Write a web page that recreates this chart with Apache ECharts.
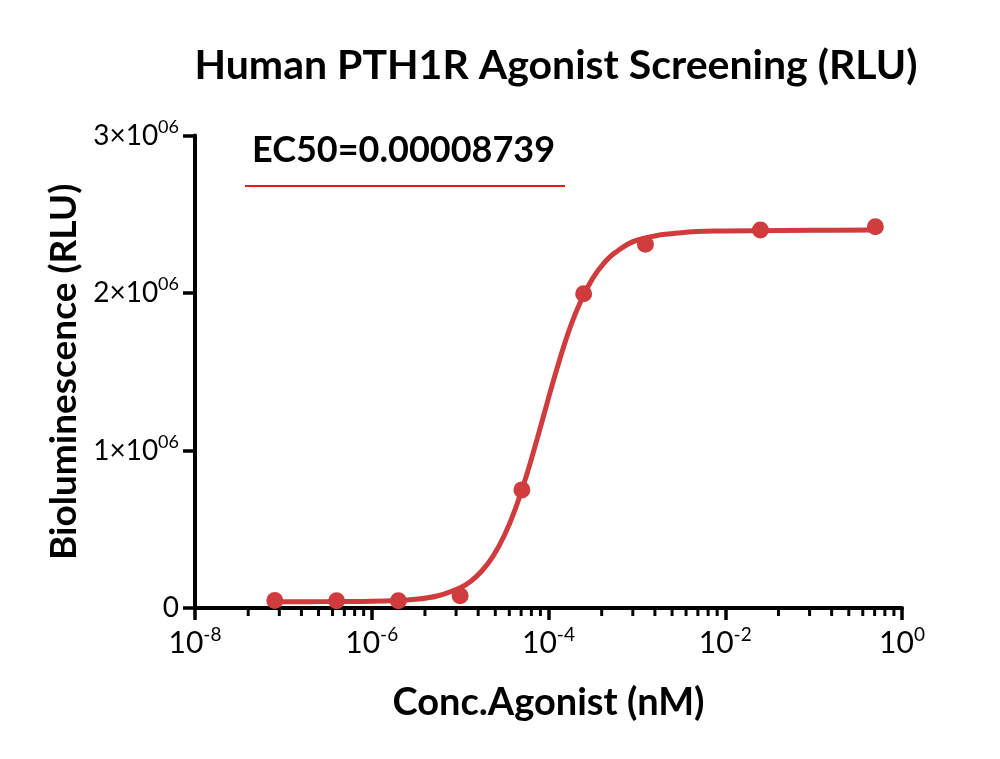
<!DOCTYPE html>
<html>
<head>
<meta charset="utf-8">
<script src="https://cdn.jsdelivr.net/npm/echarts@6/dist/echarts.min.js"></script>
<style>html,body{margin:0;padding:0;background:#fff}#c{width:1000px;height:759px}</style>
</head>
<body>
<div id="c"></div>
<script>
// ---- data ----
const titleText = 'Human PTH1R Agonist Screening (RLU)';
const legendText = 'EC50=0.00008739';
const xName = 'Conc.Agonist (nM)';
const yName = 'Bioluminescence (RLU)';

// measured points: concentration (nM) and RLU
const conc = [8e-8, 4e-7, 2e-6, 1e-5, 5e-5, 2.5e-4, 1.25e-3, 0.025, 0.5];
const rlu  = [48000, 46000, 46000, 78000, 750000, 1995000, 2310000, 2400000, 2420000];

// fitted curve
const curveX = [8e-8, 3.162e-7, 1e-6, 3.162e-6, 5.623e-6, 1e-5, 1.334e-5, 1.778e-5, 2.371e-5, 3.162e-5, 4.217e-5, 5.623e-5, 7.499e-5, 1e-4, 1.334e-4, 1.778e-4, 2.371e-4, 3.162e-4, 4.217e-4, 5.623e-4, 1e-3, 3.162e-3, 1e-2, 0.1, 0.5];
const curveY = [40000, 40500, 43000, 56000, 78000, 129000, 172000, 238000, 331000, 460000, 630000, 840000, 1080000, 1333000, 1575000, 1790000, 1960000, 2093000, 2188000, 2255000, 2335000, 2383000, 2394000, 2398000, 2400000];

// axis ticks
const xMin = 1e-8, xMax = 1;
const xMajor = [1e-8, 1e-6, 1e-4, 1e-2, 1];
const minorMult = [4, 9, 16, 25, 36, 49, 64, 81];
const yTicks = [0, 1000000, 2000000, 3000000];

const minorTicks = [];
for (let i = 0; i < xMajor.length - 1; i++) for (const m of minorMult) minorTicks.push([xMajor[i] * m, 0]);

const RED = '#d03c3e';
const FONT = 'Lato';

const chart = echarts.init(document.getElementById('c'), null, {renderer: 'canvas'});
chart.setOption({
  backgroundColor: '#fff',
  animation: false,
  title: {
    text: titleText, left: 551, top: 40, textAlign: 'center',
    textStyle: {fontFamily: FONT, fontWeight: 'bold', fontSize: 41, color: '#000'}
  },
  grid: {left: 195, right: 98, top: 135.5, bottom: 151, containLabel: false},
  xAxis: {
    type: 'log', logBase: 100, min: xMin, max: xMax,
    name: xName, nameLocation: 'middle', nameGap: 76,
    nameTextStyle: {fontFamily: FONT, fontWeight: 'bold', fontSize: 38, color: '#000'},
    axisLine: {lineStyle: {color: '#000', width: 4}},
    axisTick: {length: 12, lineStyle: {color: '#000', width: 3.5}},
    splitLine: {show: false},
    axisLabel: {
      margin: 17,
      formatter: v => '{b|10}{s|' + Math.round(Math.log10(v)) + '}',
      rich: {
        b: {fontFamily: FONT, fontSize: 30, color: '#000'},
        s: {fontFamily: FONT, fontSize: 19, color: '#000', padding: [0, 0, 18, 0]}
      }
    }
  },
  yAxis: {
    type: 'value', min: 0, max: 3000000, interval: 1000000,
    name: yName, nameLocation: 'middle', nameGap: 106, nameRotate: 90,
    nameTextStyle: {fontFamily: FONT, fontWeight: 'bold', fontSize: 37, color: '#000'},
    axisLine: {show: true, lineStyle: {color: '#000', width: 4}},
    axisTick: {show: true, length: 12, lineStyle: {color: '#000', width: 3.5}},
    splitLine: {show: false},
    axisLabel: {
      margin: 16,
      formatter: v => v === 0 ? '{b|0}' : '{b|' + (v / 1e6) + '×10}{s|06}',
      rich: {
        b: {fontFamily: FONT, fontSize: 28, color: '#000'},
        s: {fontFamily: FONT, fontSize: 18, color: '#000', padding: [0, 0, 17, 0]}
      }
    }
  },
  graphic: [
    {type: 'text', left: 252, top: 132, style: {text: legendText, fontFamily: FONT, fontWeight: 'bold', fontSize: 36, fill: '#000'}},
    {type: 'line', shape: {x1: 245, y1: 186, x2: 565, y2: 186}, style: {stroke: '#e0201f', lineWidth: 2}}
  ],
  series: [
    {
      type: 'line', data: curveX.map((x, i) => [x, curveY[i]]),
      smooth: 0.4, showSymbol: false, symbol: 'none',
      lineStyle: {color: RED, width: 5}, z: 3
    },
    {
      type: 'scatter', data: conc.map((x, i) => [x, rlu[i]]),
      symbol: 'circle', symbolSize: 17, itemStyle: {color: RED, opacity: 1}, z: 4
    },
    {
      type: 'custom', data: minorTicks, z: 2, silent: true,
      renderItem: (params, api) => {
        const c = api.coord([api.value(0), api.value(1)]);
        return {type: 'line', shape: {x1: c[0], y1: c[1], x2: c[0], y2: c[1] + 8},
                style: {stroke: '#000', lineWidth: 3}};
      }
    }
  ]
});
</script>
</body>
</html>
